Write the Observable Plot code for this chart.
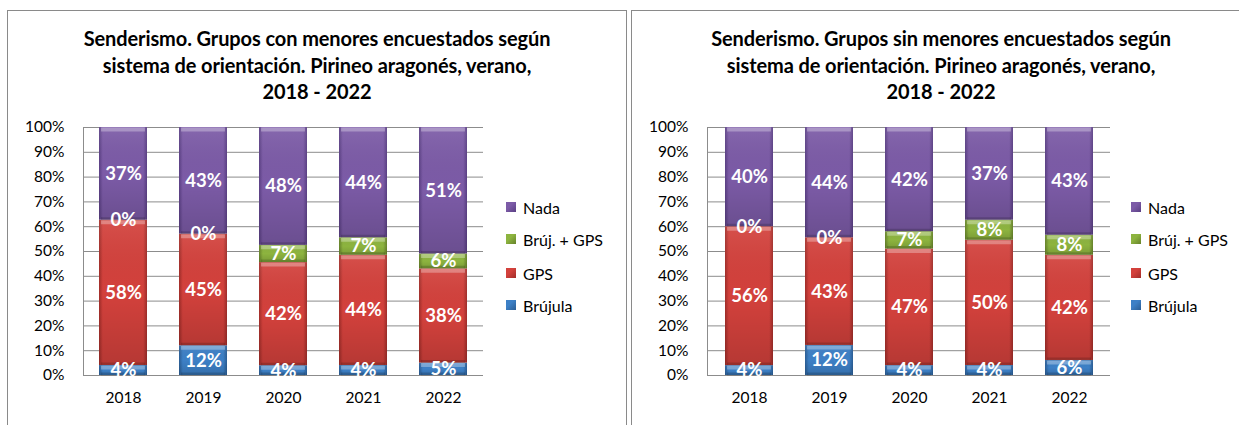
<!DOCTYPE html>
<html><head><meta charset="utf-8">
<script src="https://cdn.jsdelivr.net/npm/d3@7"></script>
<script src="https://cdn.jsdelivr.net/npm/@observablehq/plot@0.6"></script>
<style>
body{margin:0;background:#fff;font-family:Lato,"DejaVu Sans",sans-serif;width:1239px;height:425px;overflow:hidden;position:relative;}
.panel{position:absolute;top:10px;height:440px;border:1px solid #8a8a8a;box-sizing:border-box;}
.title{position:absolute;top:25px;text-align:center;font-weight:bold;font-size:20px;line-height:26.5px;color:#000;letter-spacing:-0.1px;}
.chart{position:absolute;top:100px;}
.legend{position:absolute;font-size:16px;color:#000;}
.legend .item{position:absolute;left:0;display:flex;align-items:center;white-space:nowrap;height:20px;}
.legend .sw{width:10px;height:10px;margin-right:7px;box-sizing:border-box;}
</style></head>
<body>
<svg width="0" height="0" style="position:absolute">
  <defs id="gdefs"></defs>
</svg>
<div class="panel" style="left:7px;width:620px"></div>
<div class="panel" style="left:631px;width:620px"></div>
<script>
// ---- data ----
const years = ["2018", "2019", "2020", "2021", "2022"];
const categories = ["Brújula", "GPS", "Brúj. + GPS", "Nada"]; // bottom -> top
const yTicks = [0, 10, 20, 30, 40, 50, 60, 70, 80, 90, 100];

const titleCon = ["Senderismo. Grupos con menores encuestados según", "sistema de orientación. Pirineo  aragonés, verano,", "2018 - 2022"];
const titleSin = ["Senderismo. Grupos sin menores encuestados según", "sistema de orientación. Pirineo  aragonés, verano,", "2018 - 2022"];

// Grupos con menores
const conBrujula = [4, 12, 4, 4, 5];
const conGPS     = [58, 45, 42, 44, 38];
const conAmbos   = [0, 0, 7, 7, 6];
const conNada    = [37, 43, 48, 44, 51];

// Grupos sin menores
const sinBrujula = [4, 12, 4, 4, 6];
const sinGPS     = [56, 43, 47, 50, 42];
const sinAmbos   = [0, 0, 7, 8, 8];
const sinNada    = [40, 44, 42, 37, 43];

// colours (main, dark edge)
const mainColors = ["#3d80c6", "#d3413c", "#8db43f", "#7c5ba7"];
const darkColors = ["#2b5d94", "#a02d29", "#66822b", "#5a3f84"];

// ---- gradients ----
const defs = d3.select("#gdefs");
categories.forEach((c, i) => {
  const g = defs.append("linearGradient").attr("id", "grad" + i).attr("x1", 0).attr("x2", 1).attr("y1", 0).attr("y2", 0);
  [[0, darkColors[i]], [0.08, mainColors[i]], [0.92, mainColors[i]], [1, darkColors[i]]].forEach(([o, col]) =>
    g.append("stop").attr("offset", o).attr("stop-color", col));
});
const vs = defs.append("linearGradient").attr("id", "vshade").attr("x1", 0).attr("x2", 0).attr("y1", 0).attr("y2", 1);
[[0, "#fff", 0.08], [0.5, "#000", 0], [1, "#000", 0.14]].forEach(([o, col, op]) =>
  vs.append("stop").attr("offset", o).attr("stop-color", col).attr("stop-opacity", op));

function toRows(series) {
  const rows = [];
  years.forEach((y, j) => categories.forEach((c, i) => rows.push({year: y, cat: c, value: series[i][j]})));
  return rows;
}

function chart(rows, marginRight) {
  const st = {x: "year", y: "value", z: "cat", order: categories, offset: "normalize"};
  return Plot.plot({
    width: 500, height: 310,
    marginLeft: 83, marginRight, marginTop: 27, marginBottom: 35,
    style: {fontFamily: "Lato, sans-serif", fontSize: "15px", color: "#000", background: "transparent", overflow: "visible"},
    x: {domain: years, paddingInner: 0.4, paddingOuter: 0.2, label: null},
    y: {domain: [0, 1], label: null},
    color: {domain: categories, range: categories.map((c, i) => `url(#grad${i})`)},
    marks: [
      Plot.ruleY(yTicks.map(t => t / 100), {stroke: "#8c8c8c", strokeWidth: 1}),
      Plot.frame({anchor: "left", stroke: "#8c8c8c"}),
      Plot.barY(rows, {...st, fill: "cat"}),
      Plot.barY(rows, {...st, fill: "url(#vshade)"}),
      Plot.tickY(rows.filter(d => d.value > 0), Plot.stackY2({...st, stroke: "#fff", strokeOpacity: 0.3, strokeWidth: 4, dy: 2, inset: 2})),
      Plot.tickY(rows.filter(d => d.value > 0), Plot.stackY1({...st, stroke: "#000", strokeOpacity: 0.16, strokeWidth: 3, dy: -1.5, inset: 2})),
      Plot.text(rows, Plot.stackY({...st, text: d => d.value + "%", fill: "#fff", fontWeight: "bold", fontSize: 18.5})),
      Plot.axisY({ticks: yTicks.map(t => t / 100), tickFormat: d => Math.round(d * 100) + "%", tickSize: 0, tickPadding: 19, fontSize: 15.5}),
      Plot.axisX({tickSize: 0, tickPadding: 16, fontSize: 15.5})
    ]
  });
}

function addPanel(titleLines, series, left, panelLeft, marginRight, legendLeft) {
  const t = document.createElement("div");
  t.className = "title";
  t.style.left = panelLeft + "px";
  t.style.width = "620px";
  t.innerHTML = titleLines.join("<br>");
  document.body.appendChild(t);

  const c = chart(toRows(series), marginRight);
  c.classList.add("chart");
  c.style.left = left + "px";
  document.body.appendChild(c);

  const lg = document.createElement("div");
  lg.className = "legend";
  lg.style.left = legendLeft + "px";
  lg.style.top = "0px";
  const tops = [197, 229, 263, 295];
  categories.slice().reverse().forEach((cat, k) => {
    const i = categories.indexOf(cat);
    const it = document.createElement("div");
    it.className = "item";
    it.style.top = tops[k] + "px";
    it.innerHTML = `<span class="sw" style="background:linear-gradient(135deg, ${mainColors[i]} 40%, ${darkColors[i]});"></span><span>${cat}</span>`;
    lg.appendChild(it);
  });
  document.body.appendChild(lg);
}

addPanel(titleCon, [conBrujula, conGPS, conAmbos, conNada], 0, 7, 17, 506);
addPanel(titleSin, [sinBrujula, sinGPS, sinAmbos, sinNada], 624, 631, 14, 1131);
</script>
</body></html>
